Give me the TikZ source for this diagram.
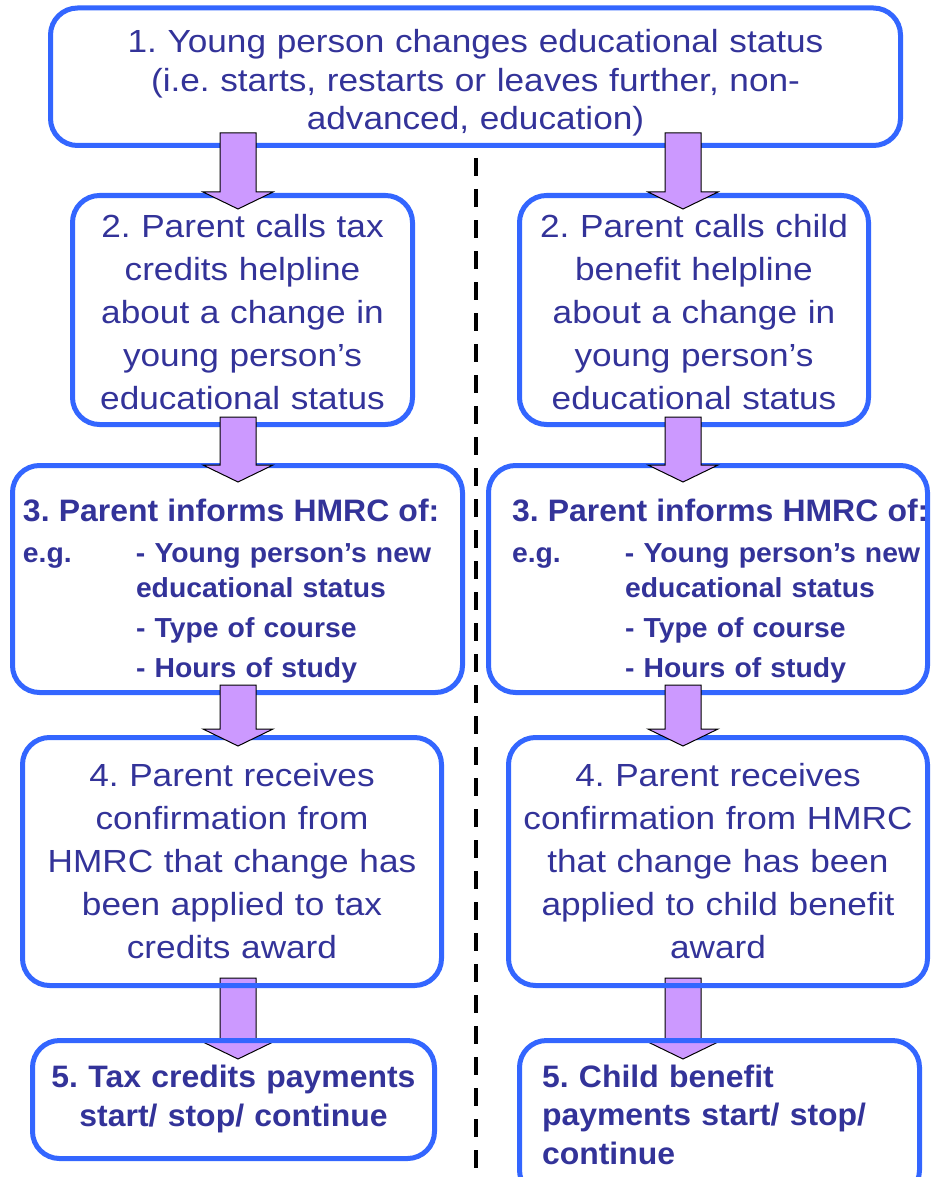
\documentclass[tikz,border=0pt]{standalone}
\usepackage{fontspec}
\setmainfont{Liberation Sans}[FakeStretch=1.1]
\newfontfamily\boldsans{Liberation Sans}[FakeStretch=1.03]
\usetikzlibrary{calc,backgrounds}
\definecolor{boxblue}{HTML}{3366FF}
\definecolor{textblue}{HTML}{333399}
\definecolor{arrowfill}{HTML}{CC99FF}
\tikzset{
  box/.style={draw=boxblue, line width=5pt, rounded corners=27pt,
              text=textblue, inner sep=0pt, outer sep=0pt},
  plainbox/.style={box, align=center, font=\fontsize{32}{43}\selectfont},
  boldbox/.style={box, font=\boldsans\bfseries\fontsize{31}{39}\selectfont},
  listbox/.style={box, align=left, font=\boldsans\bfseries\fontsize{27.5}{35}\selectfont},
  fatarrow/.style={draw=black, line width=1pt, fill=arrowfill},
  divider/.style={line width=3.5pt, dash pattern=on 18pt off 13pt},
}
\newcommand\fatarrow[2]{%
  \draw[fatarrow] let \p1=(#1), \p2=(#2) in
    (\x1-18pt,\y1) -- (\x1+18pt,\y1) -- (\x1+18pt,\y2+17pt)
    -- (\x1+35pt,\y2+17pt) -- (\x2,\y2) -- (\x1-35pt,\y2+17pt)
    -- (\x1-18pt,\y2+17pt) -- cycle;}
\newcommand\informlist{%
  \begin{tabular}[t]{@{}p{113pt}@{}l@{}}
    \multicolumn{2}{@{}l@{}}{\fontsize{31}{35}\selectfont 3. Parent informs HMRC of:}\\[6pt]
    e.g. & - Young person’s new\\
         & educational status\\[5pt]
         & - Type of course\\[5pt]
         & - Hours of study
  \end{tabular}}

\begin{document}
\frenchspacing
\begin{tikzpicture}[x=1pt, y=-1pt]
    \useasboundingbox (0,0) rectangle (932,1177);
    \coordinate (colL) at (238,0);
    \coordinate (colR) at (683,0);
    \node[plainbox, font=\fontsize{32}{38.5}\selectfont, text width=850pt,
          text height=45pt, text depth=92.5pt] (b1) at (475.5,76.75)
      {1. Young person changes educational status\\(i.e. starts, restarts or leaves further, non-\\advanced, education)};
    \node[plainbox, text width=340pt, text height=41.5pt, text depth=187.5pt] (b2L) at (242.5,310)
      {2. Parent calls tax\\credits helpline\\about a change in\\young person’s\\educational status};
    \node[plainbox, text width=349pt, text height=41.5pt, text depth=187.5pt] (b2R) at (694,310)
      {2. Parent calls child\\benefit helpline\\about a change in\\young person’s\\educational status};
    \node[listbox, text width=429pt, inner xsep=10.5pt,
          text height=55.5pt, text depth=171.5pt] (b3L) at (237.5,579) {\informlist};
    \node[listbox, text width=392pt, inner xsep=23.5pt,
          text height=55.5pt, text depth=171.5pt] (b3R) at (708,579) {\informlist};
    \node[plainbox, text width=419pt, text height=48.5pt, text depth=199.5pt] (b4L) at (232,861.5)
      {4. Parent receives\\confirmation from\\HMRC that change has\\been applied to tax\\credits award};
    \node[plainbox, text width=419pt, text height=48.5pt, text depth=199.5pt] (b4R) at (718,861.5)
      {4. Parent receives\\confirmation from HMRC\\that change has been\\applied to child benefit\\award};
    \node[boldbox, align=center, text width=402pt,
          text height=46.5pt, text depth=71.5pt] (b5L) at (233.5,1099.5)
      {5. Tax credits payments\\start/ stop/ continue};
    \node[boldbox, align=left, font=\boldsans\bfseries\fontsize{31}{38.5}\selectfont,
          text width=355pt, inner xsep=22.5pt, text height=46.5pt, text depth=110pt] (b5R) at (719.5,1118.75)
      {5. Child benefit\\payments start/ stop/\\continue};
    \draw[divider] (476,158) -- (476,1190);
    \fatarrow{$(b1.south -| colL)+(0,-12.5)$}{$(b2L.north -| colL)+(0,13.5)$}
    \fatarrow{$(b1.south -| colR)+(0,-12.5)$}{$(b2R.north -| colR)+(0,13.5)$}
    \fatarrow{$(b2L.south -| colL)+(0,-7.5)$}{$(b3L.north -| colL)+(0,16.5)$}
    \fatarrow{$(b2R.south -| colR)+(0,-7.5)$}{$(b3R.north -| colR)+(0,16.5)$}
    \fatarrow{$(b3L.south -| colL)+(0,-7.5)$}{$(b4L.north -| colL)+(0,8.5)$}
    \fatarrow{$(b3R.south -| colR)+(0,-7.5)$}{$(b4R.north -| colR)+(0,8.5)$}
    \begin{pgfonlayer}{background}
      \fatarrow{$(b4L.south -| colL)+(0,-7.5)$}{$(b5L.north -| colL)+(0,18.5)$}
      \fatarrow{$(b4R.south -| colR)+(0,-7.5)$}{$(b5R.north -| colR)+(0,18.5)$}
    \end{pgfonlayer}
  \end{tikzpicture}
\end{document}
